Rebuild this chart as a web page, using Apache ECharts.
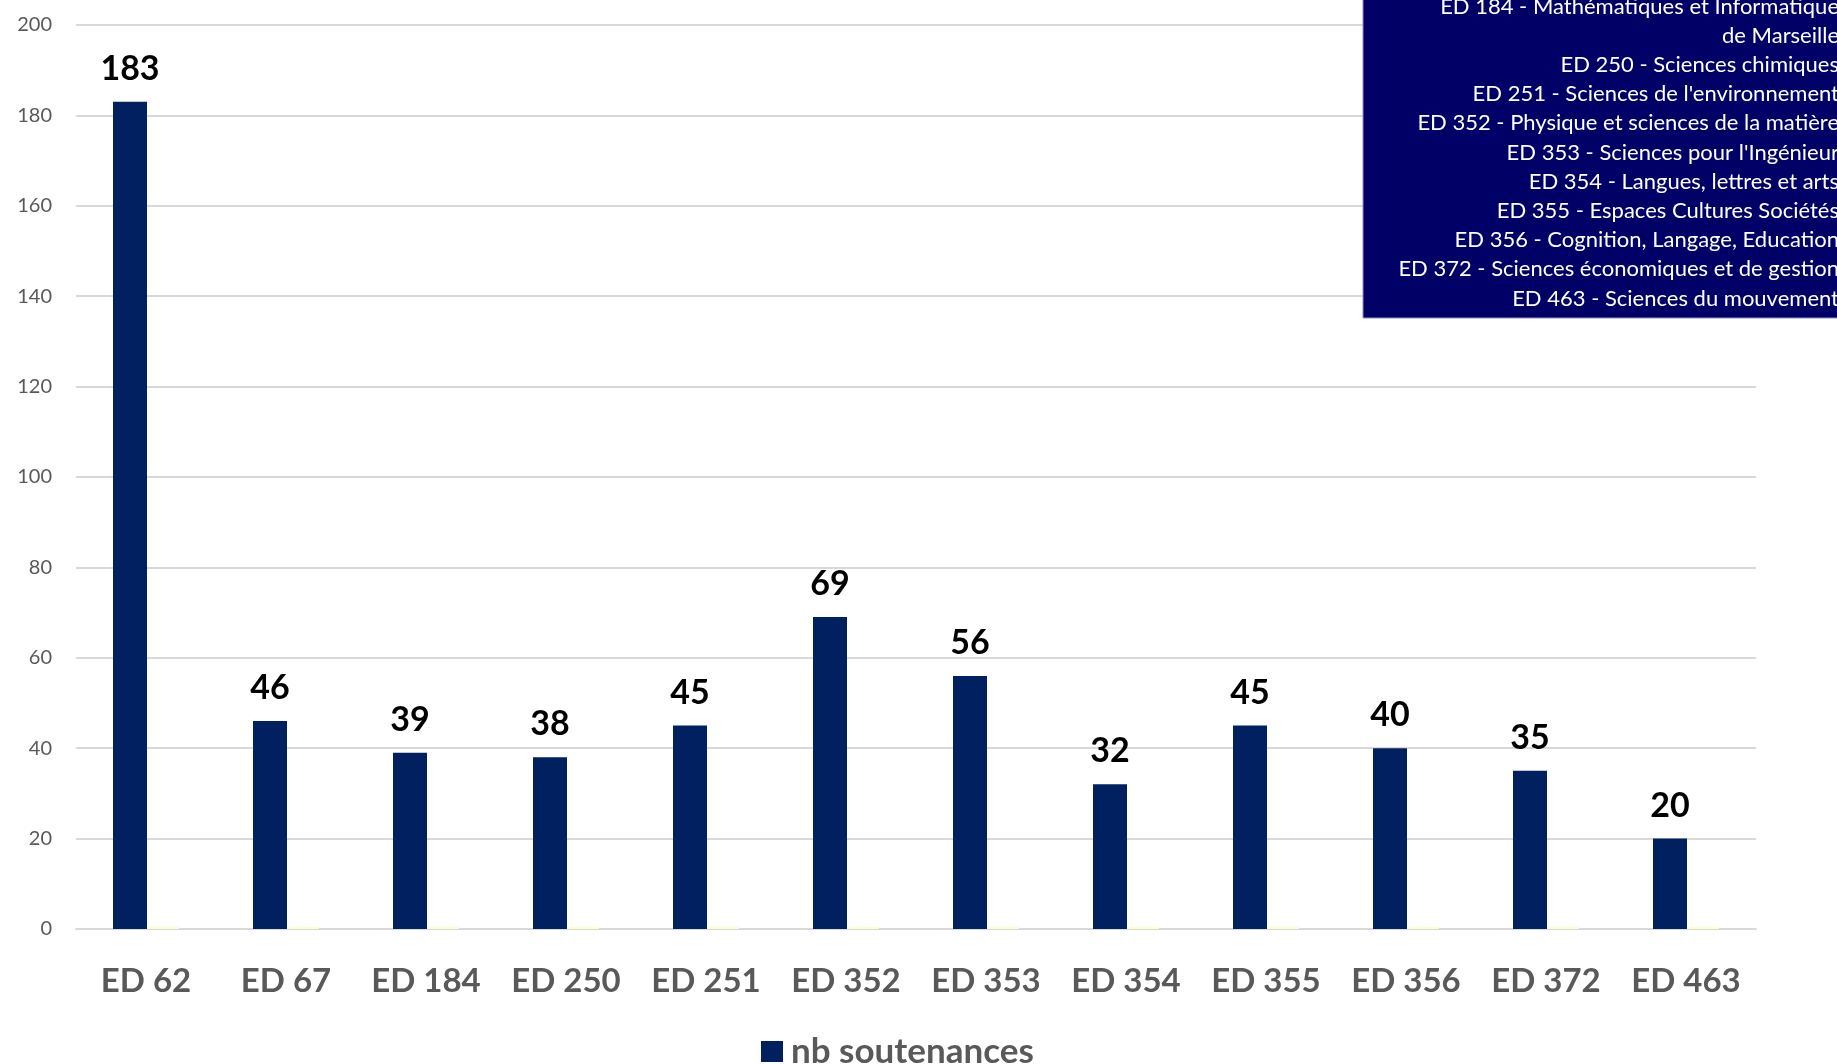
<!DOCTYPE html>
<html>
<head>
<meta charset="utf-8">
<script src="https://cdn.jsdelivr.net/npm/echarts@6/dist/echarts.min.js"></script>
<style>
html,body{margin:0;padding:0;background:#fff;}
#chart{width:1837px;height:1064px;}
</style>
</head>
<body>
<div id="chart"></div>
<script>
var categories = ['ED 62','ED 67','ED 184','ED 250','ED 251','ED 352','ED 353','ED 354','ED 355','ED 356','ED 372','ED 463'];
var soutenances = [183,46,39,38,45,69,56,32,45,40,35,20];
var secondSeries = [0,0,0,0,0,0,0,0,0,0,0,0];
var yTicks = {min:0, max:200, interval:20};
var legendLines = [
  'ED 184 - Mathématiques et Informatique',
  'de Marseille',
  'ED 250 - Sciences chimiques',
  "ED 251 - Sciences de l'environnement",
  'ED 352 - Physique et sciences de la matière',
  "ED 353 - Sciences pour l'Ingénieur",
  'ED 354 - Langues, lettres et arts',
  'ED 355 - Espaces Cultures Sociétés',
  'ED 356 - Cognition, Langage, Education',
  'ED 372 - Sciences économiques et de gestion',
  'ED 463 - Sciences du mouvement'
];

var chart = echarts.init(document.getElementById('chart'));
var font = 'Lato, "Open Sans", sans-serif';
chart.setOption({
  animation:false,
  backgroundColor:'#ffffff',
  grid:{left:76,right:81,top:25,bottom:135,containLabel:false},
  legend:{
    data:['nb soutenances'],
    left:756, top:1029,
    itemWidth:22, itemHeight:21,
    icon:'rect',
    textStyle:{fontFamily:font,fontSize:35,fontWeight:'bold',color:'#595959',padding:[0,0,0,3]}
  },
  xAxis:{
    type:'category',
    data:categories,
    axisLine:{lineStyle:{color:'#d9d9d9',width:2}},
    axisTick:{show:false},
    axisLabel:{interval:0,fontFamily:font,fontSize:33,fontWeight:'bold',color:'#595959',margin:36}
  },
  yAxis:{
    type:'value',
    min:yTicks.min,max:yTicks.max,interval:yTicks.interval,
    axisLine:{show:false},
    axisTick:{show:false},
    splitLine:{lineStyle:{color:'#d9d9d9',width:2}},
    axisLabel:{fontFamily:font,fontSize:20,color:'#595959',margin:24}
  },
  series:[
    {
      name:'nb soutenances',
      type:'bar',
      data:soutenances,
      barWidth:34,
      barGap:'0%',
      itemStyle:{color:'#002060'},
      label:{show:true,position:'top',distance:16,fontFamily:font,fontSize:34,fontWeight:'bold',color:'#000000'}
    },
    {
      name:'autre',
      type:'bar',
      data:secondSeries,
      barWidth:32,
      barMinHeight:2,
      itemStyle:{color:'#FFFFCC'},
      label:{show:false}
    }
  ],
  graphic:[
    {
      type:'rect',
      shape:{x:1363,y:-5,width:480,height:323},
      style:{fill:'#000066',stroke:'#8f8fc0',lineWidth:1},
      z:100
    },
    {
      type:'text',
      x:1839, y:-8,
      style:{
        text:legendLines.join('\n'),
        fill:'#ffffff',
        fontFamily:font,
        fontSize:22,
        lineHeight:29.2,
        align:'right',
        verticalAlign:'top'
      },
      z:101
    }
  ]
});
</script>
</body>
</html>
